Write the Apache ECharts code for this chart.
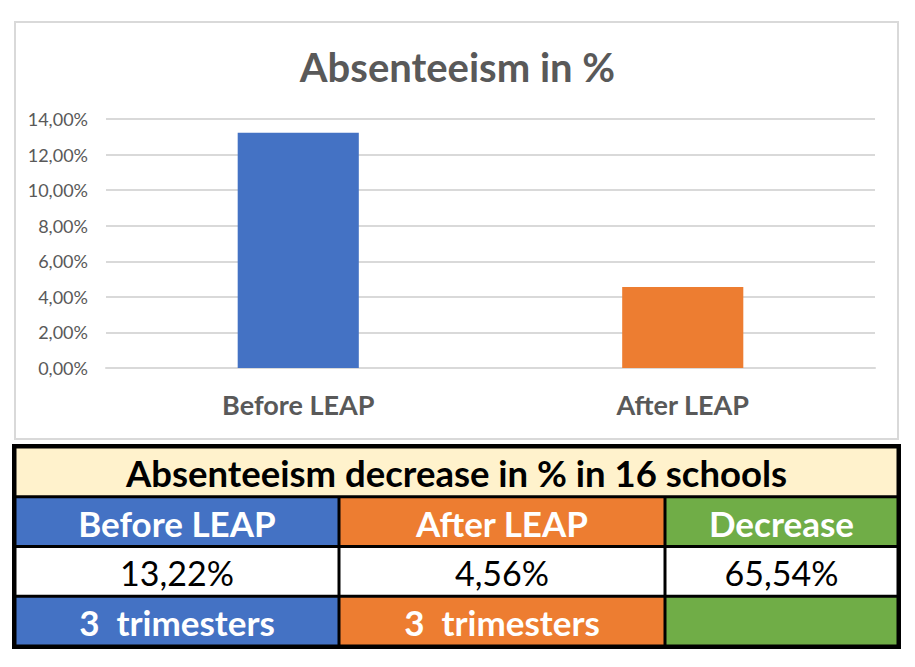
<!DOCTYPE html>
<html>
<head>
<meta charset="utf-8">
<script src="https://cdn.jsdelivr.net/npm/echarts@6/dist/echarts.min.js"></script>
<style>
html,body{margin:0;padding:0;background:#fff;}
#c{width:915px;height:667px;}
</style>
</head>
<body>
<div id="c"></div>
<script>
// ---- data ----
const categories = ['Before LEAP', 'After LEAP'];
const absenteeism = [0.1322, 0.0456];
const yTickLabels = ['0,00%', '2,00%', '4,00%', '6,00%', '8,00%', '10,00%', '12,00%', '14,00%'];
const tableTitle = 'Absenteeism decrease in % in 16 schools';
const tableHeaders = ['Before LEAP', 'After LEAP', 'Decrease'];
const tableValues = ['13,22%', '4,56%', '65,54%'];
const tablePeriods = ['3\u00A0 trimesters', '3\u00A0 trimesters', ''];

// ---- styles ----
const FONT = 'Lato';
const BLUE = '#4472C4', ORANGE = '#ED7D31', GREEN = '#70AD47', CREAM = '#FFF2CC';
const barColors = [BLUE, ORANGE];
const colColors = [BLUE, ORANGE, GREEN];
const colEdges = [0, 324, 650, 883];

// table cells: [x0, x1, row, fill, text, color, weight, size]
const cells = [];
cells.push([colEdges[0], colEdges[3], 0, CREAM, tableTitle, '#000', 'bold', 36.5]);
for (let i = 0; i < 3; i++) {
  cells.push([colEdges[i], colEdges[i + 1], 1, colColors[i], tableHeaders[i], '#fff', 'bold', 35]);
  cells.push([colEdges[i], colEdges[i + 1], 2, '#ffffff', tableValues[i], '#000', 'normal', 34]);
  cells.push([colEdges[i], colEdges[i + 1], 3, colColors[i], tablePeriods[i], '#fff', 'bold', 35]);
}

const chart = echarts.init(document.getElementById('c'), null, { renderer: 'svg' });

const option = {
  backgroundColor: '#ffffff',
  animation: false,
  title: {
    text: 'Absenteeism in %',
    left: 'center',
    top: 42,
    textStyle: { fontFamily: FONT, fontWeight: 'bold', fontSize: 40, color: '#595959' }
  },
  graphic: [{
    type: 'rect',
    shape: { x: 15, y: 22, width: 883, height: 417 },
    style: { fill: 'none', stroke: '#d9d9d9', lineWidth: 2 },
    z: -10
  }],
  grid: [
    { left: 106, right: 40, top: 119, bottom: 299 },
    { left: 15, right: 17, top: 447, bottom: 21 }
  ],
  xAxis: [{
    type: 'category',
    gridIndex: 0,
    data: categories,
    axisLine: { show: true, lineStyle: { color: '#d9d9d9', width: 2 } },
    axisTick: { show: false },
    axisLabel: { margin: 23, fontFamily: FONT, fontWeight: 'bold', fontSize: 27, color: '#595959' }
  }, {
    type: 'value',
    gridIndex: 1,
    min: 0, max: 883,
    show: false
  }],
  yAxis: [{
    type: 'value',
    gridIndex: 0,
    min: 0, max: 0.14, interval: 0.02,
    axisLine: { show: false },
    axisTick: { show: false },
    splitLine: { lineStyle: { color: '#d9d9d9', width: 2 } },
    axisLabel: {
      margin: 18, fontFamily: FONT, fontSize: 18, color: '#595959',
      formatter: function (v) { return yTickLabels[Math.round(v / 0.02)]; }
    }
  }, {
    type: 'value',
    gridIndex: 1,
    min: 0, max: 4,
    inverse: true,
    show: false
  }],
  series: [{
    type: 'bar',
    xAxisIndex: 0, yAxisIndex: 0,
    barWidth: '31.5%',
    data: absenteeism.map(function (v, i) { return { value: v, itemStyle: { color: barColors[i] } }; })
  }, {
    type: 'custom',
    xAxisIndex: 1, yAxisIndex: 1,
    clip: false,
    data: [[0, colEdges[3], 0, 4]].concat(cells.map(function (c) { return [c[0], c[1], c[2], c[2] + 1]; })),
    encode: { x: [0, 1], y: [2, 3] },
    renderItem: function (params, api) {
      const p0 = api.coord([api.value(0), api.value(2)]);
      const p1 = api.coord([api.value(1), api.value(3)]);
      if (params.dataIndex === 0) {
        return {
          type: 'rect',
          shape: { x: p0[0] - 3, y: p0[1] - 3, width: p1[0] - p0[0] + 6, height: p1[1] - p0[1] + 6 },
          style: { fill: '#000' }
        };
      }
      const c = cells[params.dataIndex - 1];
      const g = 1.5;
      return {
        type: 'group',
        children: [{
          type: 'rect',
          shape: { x: p0[0] + g, y: p0[1] + g, width: p1[0] - p0[0] - 2 * g, height: p1[1] - p0[1] - 2 * g },
          style: { fill: c[3] }
        }, {
          type: 'text',
          style: {
            text: c[4], x: (p0[0] + p1[0]) / 2, y: (p0[1] + p1[1]) / 2 + 1,
            align: 'center', verticalAlign: 'middle',
            fontFamily: FONT, fontSize: c[7], fontWeight: c[6], fill: c[5]
          }
        }]
      };
    }
  }]
};
chart.setOption(option);
</script>
</body>
</html>
